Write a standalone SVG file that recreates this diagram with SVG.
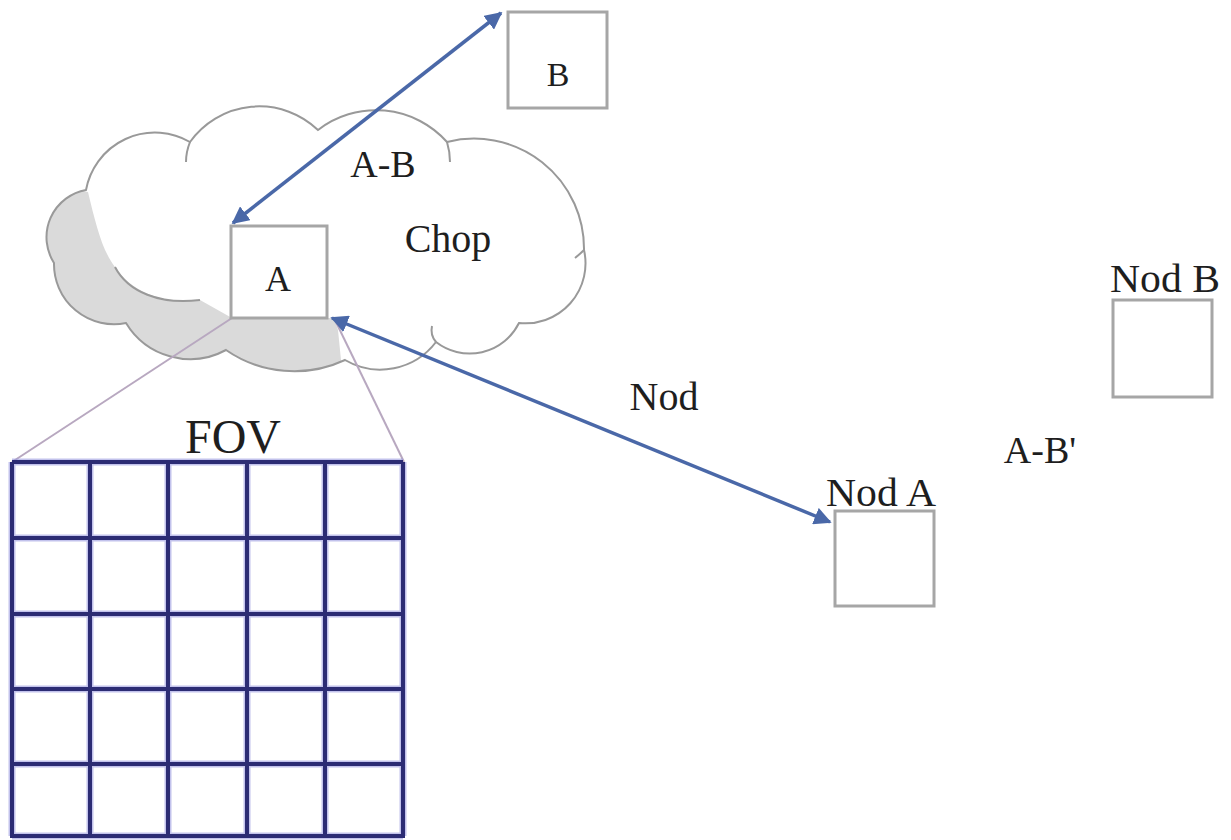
<svg xmlns="http://www.w3.org/2000/svg" width="1231" height="840" viewBox="0 0 1231 840">
<defs>
<style>
.box{fill:#fff;stroke:#a6a6a6;stroke-width:3}
.lbl{font-family:"Liberation Serif",serif;fill:#1e1e1e}
.arr{stroke:#4a68a8;stroke-width:3.5;fill:none;marker-start:url(#ah);marker-end:url(#ah)}
.fovl{stroke:#b8a8c0;stroke-width:2;fill:none}
.grid{stroke:#2c2c74;stroke-width:4;fill:none}
.gridh{stroke:#9a9ae0;stroke-width:7;fill:none;opacity:0.6}
.cl{fill:none;stroke:#999;stroke-width:2}
</style>
<marker id="ah" viewBox="0 0 10 10" refX="9" refY="5" markerWidth="5" markerHeight="5" orient="auto-start-reverse" markerUnits="strokeWidth">
<path d="M0,0 L10,5 L0,10 Z" fill="#4a68a8"/>
</marker>
<path id="cloudshape" d="M86,190 A70,70 0 0 1 190,142 A85,85 0 0 1 318,130 A95,95 0 0 1 447,142 A110,110 0 0 1 584,250 A60,60 0 0 1 519,323 A55,55 0 0 1 436,342 A70,70 0 0 1 345,360 A120,120 0 0 1 226,350 A75,75 0 0 1 126,323 A60,60 0 0 1 54,263 A48,48 0 0 1 86,190 Z"/>
<clipPath id="cloudclip">
<use href="#cloudshape"/>
</clipPath>
</defs>
<rect width="1231" height="840" fill="#fff"/>

<g id="cloud">
<use href="#cloudshape" fill="#fff"/>
<path clip-path="url(#cloudclip)" d="M30,180 L88,192 C96,225 102,250 115,267 C130,290 160,305 200,300 L232,318 L334,318 L338,330 L345,400 L30,400 Z" fill="#dadada"/>
<use href="#cloudshape" class="cl"/>
<path class="cl" d="M115,267 C128,292 160,305 200,300"/>
<path class="cl" d="M190,142 Q186,152 186,162"/>
<path class="cl" d="M447,142 Q450,152 450,162"/>
<path class="cl" d="M584,250 Q580,254 575,258"/>
<path class="cl" d="M436,342 Q430,335 432,326"/>
<path class="cl" d="M274,307 Q290,312 300,318"/>
<text class="lbl" x="448" y="252" font-size="40" text-anchor="middle">Chop</text>
</g>

<g id="fov-lines">
<line class="fovl" x1="232" y1="318" x2="12" y2="462"/>
<line class="fovl" x1="334" y1="318" x2="404" y2="462"/>
</g>

<g id="nodeA">
<rect class="box" x="231" y="226" width="96" height="92"/>
<text class="lbl" x="278" y="291" font-size="36" text-anchor="middle">A</text>
</g>

<g id="nodeB">
<rect class="box" x="508" y="12" width="99" height="96"/>
<text class="lbl" x="558" y="86" font-size="34" text-anchor="middle">B</text>
</g>

<g id="fov">
<text class="lbl" x="233" y="453" font-size="48" text-anchor="middle">FOV</text>
<g class="gridh">
<path d="M12,462 V836 M90,462 V836 M168,462 V836 M247,462 V836 M325,462 V836 M403,462 V836"/>
<path d="M12,462 H403 M12,538 H403 M12,614 H403 M12,689 H403 M12,764 H403 M12,836 H403"/>
</g>
<g class="grid">
<path d="M12,462 V838 M90,462 V838 M168,462 V838 M247,462 V838 M325,462 V838 M403,462 V838"/>
<path d="M12,462 H403 M12,538 H403 M12,614 H403 M12,689 H403 M12,764 H403 M12,836 H403"/>
</g>
</g>

<g id="nodA">
<rect class="box" x="835" y="511" width="99" height="95"/>
<text class="lbl" x="881" y="506" font-size="41" text-anchor="middle" textLength="110" lengthAdjust="spacingAndGlyphs">Nod A</text>
</g>

<g id="nodB">
<rect class="box" x="1113" y="300" width="99" height="97"/>
<text class="lbl" x="1165" y="292" font-size="41" text-anchor="middle" textLength="110" lengthAdjust="spacingAndGlyphs">Nod B</text>
</g>

<g id="connectors">
<line class="arr" x1="233" y1="223" x2="501" y2="13"/>
<line class="arr" x1="332" y1="318" x2="830" y2="522"/>
<text class="lbl" x="383" y="177" font-size="38" text-anchor="middle">A-B</text>
<text class="lbl" x="664" y="410" font-size="40" text-anchor="middle">Nod</text>
<text class="lbl" x="1040" y="463" font-size="38" text-anchor="middle">A-B'</text>
</g>
</svg>
